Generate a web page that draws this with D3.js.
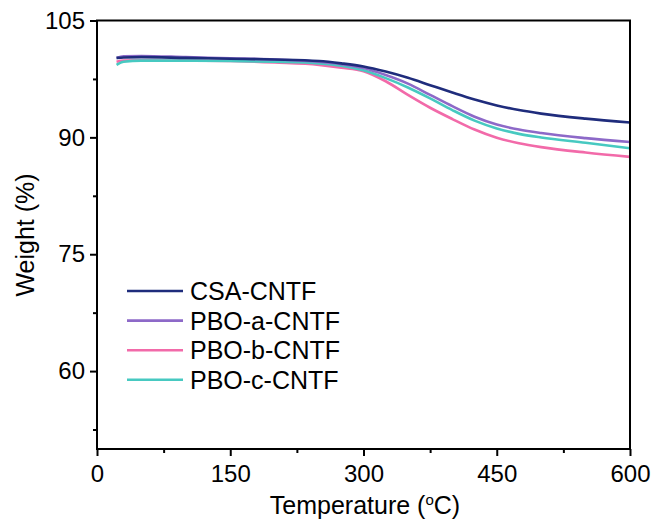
<!DOCTYPE html>
<html>
<head>
<meta charset="utf-8">
<script src="https://cdn.jsdelivr.net/npm/d3@7"></script>
<style>
  body { margin: 0; background: #fff; }
  text { font-family: "Liberation Sans", Arial, sans-serif; fill: #000; }
</style>
</head>
<body>
<svg width="655" height="527"></svg>
<script>
// temperature samples (°C)
var temps = [22, 30, 50, 100, 150, 200, 250, 275, 300, 325, 350, 375, 400, 425, 450, 475, 500, 550, 600];

// weight (%) per sample
var csa  = [100.2, 100.25, 100.3, 100.2, 100.1, 100.0, 99.8, 99.5, 99.1, 98.45, 97.65, 96.7, 95.75, 94.85, 94.1, 93.5, 93.05, 92.4, 91.9];
var pboA = [100.2, 100.4, 100.45, 100.3, 100.15, 100.0, 99.7, 99.4, 98.9, 98.0, 96.9, 95.45, 94.0, 92.65, 91.65, 91.0, 90.55, 89.9, 89.4];
var pboB = [99.7, 99.85, 99.9, 99.85, 99.8, 99.6, 99.3, 98.95, 98.5, 97.2, 95.45, 93.8, 92.35, 91.0, 89.95, 89.25, 88.75, 88.05, 87.5];
var pboC = [99.3, 99.7, 99.85, 99.85, 99.8, 99.7, 99.5, 99.2, 98.6, 97.6, 96.4, 95.0, 93.5, 92.15, 91.15, 90.45, 89.98, 89.3, 88.6];

var names = ["CSA-CNTF", "PBO-a-CNTF", "PBO-b-CNTF", "PBO-c-CNTF"];
var colors = ["#1f2c7c", "#8d69c8", "#f26aa9", "#47c9c1"];
var seriesVals = [csa, pboA, pboB, pboC];

var xTicks = [0, 150, 300, 450, 600];
var yTicks = [60, 75, 90, 105];

var svg = d3.select("svg");
var plotL = 97, plotR = 630, plotT = 20.5, plotB = 449;

var x = d3.scaleLinear().domain([0, 600]).range([plotL, plotR]);
var y = d3.scaleLinear().domain([50, 105]).range([plotB, plotT]);

var line = d3.line()
  .x(d => x(d[0]))
  .y(d => y(d[1]))
  .curve(d3.curveMonotoneX);

// pink first, navy on top
var order = [2, 3, 1, 0];
order.forEach(function(i) {
  svg.append("path")
    .datum(temps.map((t, j) => [t, seriesVals[i][j]]))
    .attr("d", line)
    .attr("fill", "none")
    .attr("stroke", colors[i])
    .attr("stroke-width", 2.6);
});

// frame
svg.append("rect")
  .attr("x", plotL).attr("y", plotT)
  .attr("width", plotR - plotL).attr("height", plotB - plotT)
  .attr("fill", "none").attr("stroke", "#000").attr("stroke-width", 2);

// axes
svg.append("g")
  .attr("transform", "translate(0," + plotB + ")")
  .call(d3.axisBottom(x).tickValues(xTicks).tickSize(7).tickPadding(9));
svg.append("g")
  .attr("transform", "translate(0," + plotB + ")")
  .call(d3.axisBottom(x).tickValues(d3.range(75, 600, 150)).tickSize(4).tickFormat(""));

svg.append("g")
  .attr("transform", "translate(" + plotL + ",0)")
  .call(d3.axisLeft(y).tickValues(yTicks).tickSize(7).tickPadding(5));
svg.append("g")
  .attr("transform", "translate(" + plotL + ",0)")
  .call(d3.axisLeft(y).tickValues([52.5, 67.5, 82.5, 97.5]).tickSize(4).tickFormat(""));

svg.selectAll(".domain").remove();
svg.selectAll(".tick line").attr("stroke", "#000").attr("stroke-width", 2);
svg.selectAll(".tick text").attr("font-size", 24).attr("font-family", "Liberation Sans, Arial, sans-serif");

// axis titles
var xt = svg.append("text")
  .attr("x", 365).attr("y", 514)
  .attr("text-anchor", "middle")
  .attr("font-size", 25);
xt.append("tspan").text("Temperature (");
xt.append("tspan").text("o").attr("font-size", 15).attr("dy", -9);
xt.append("tspan").text("C)").attr("dy", 9);

svg.append("text")
  .attr("transform", "translate(34,235) rotate(-90)")
  .attr("text-anchor", "middle")
  .attr("font-size", 25)
  .text("Weight (%)");

// legend
var legend = svg.append("g");
names.forEach(function(n, i) {
  var ly = 291 + i * 29.6;
  legend.append("line")
    .attr("x1", 127).attr("x2", 183)
    .attr("y1", ly).attr("y2", ly)
    .attr("stroke", colors[i]).attr("stroke-width", 2.6);
  legend.append("text")
    .attr("x", 190).attr("y", ly + 9)
    .attr("font-size", 25)
    .text(n);
});
</script>
</body>
</html>
